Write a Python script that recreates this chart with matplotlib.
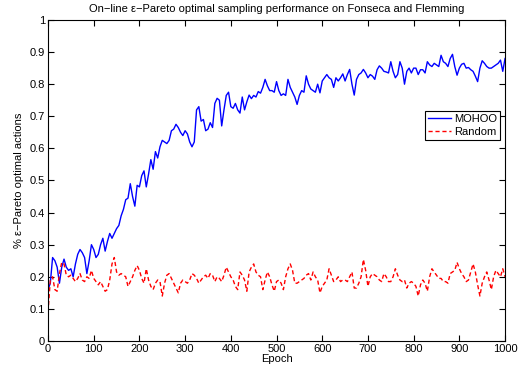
import numpy as np
import matplotlib
matplotlib.use("Agg")
import matplotlib.pyplot as plt


# -----------------------------
# Data (every 5 epochs)
# -----------------------------
epochs = np.arange(0, 1001, 5)

mohoo = [
    0.16, 0.18, 0.26, 0.25, 0.23, 0.18, 0.23, 0.255, 0.23, 0.22,
    0.225, 0.20, 0.24, 0.27, 0.285, 0.275, 0.26, 0.21, 0.25, 0.30,
    0.285, 0.26, 0.27, 0.30, 0.32, 0.28, 0.31, 0.335, 0.32, 0.335,
    0.35, 0.36, 0.39, 0.41, 0.44, 0.445, 0.49, 0.45, 0.42, 0.485,
    0.48, 0.515, 0.53, 0.48, 0.52, 0.565, 0.535, 0.59, 0.57, 0.605,
    0.625, 0.62, 0.615, 0.625, 0.655, 0.66, 0.675, 0.665, 0.65, 0.64,
    0.655, 0.645, 0.62, 0.605, 0.62, 0.72, 0.73, 0.685, 0.69, 0.655,
    0.66, 0.68, 0.665, 0.74, 0.756, 0.75, 0.67, 0.72, 0.765, 0.775,
    0.73, 0.725, 0.74, 0.72, 0.71, 0.76, 0.72, 0.745, 0.766, 0.755,
    0.765, 0.76, 0.777, 0.772, 0.79, 0.815, 0.795, 0.78, 0.78, 0.775,
    0.808, 0.78, 0.765, 0.77, 0.765, 0.815, 0.79, 0.775, 0.76, 0.737,
    0.765, 0.78, 0.775, 0.826, 0.80, 0.785, 0.78, 0.775, 0.80, 0.773,
    0.81, 0.82, 0.83, 0.82, 0.815, 0.79, 0.82, 0.81, 0.82, 0.832,
    0.81, 0.83, 0.846, 0.80, 0.766, 0.815, 0.83, 0.835, 0.846, 0.835,
    0.82, 0.83, 0.825, 0.815, 0.845, 0.857, 0.85, 0.84, 0.838, 0.835,
    0.87, 0.84, 0.82, 0.83, 0.87, 0.85, 0.80, 0.84, 0.85, 0.835,
    0.85, 0.85, 0.83, 0.845, 0.845, 0.835, 0.87, 0.86, 0.855, 0.865,
    0.86, 0.855, 0.89, 0.87, 0.865, 0.855, 0.88, 0.893, 0.855, 0.828,
    0.85, 0.862, 0.865, 0.85, 0.852, 0.845, 0.84, 0.825, 0.808, 0.85,
    0.873, 0.865, 0.855, 0.85, 0.85, 0.855, 0.86, 0.865, 0.875, 0.84,
    0.88,
]

random_pick = [
    0.09, 0.19, 0.20, 0.16, 0.155, 0.21, 0.245, 0.24, 0.205, 0.20,
    0.205, 0.195, 0.185, 0.195, 0.21, 0.19, 0.185, 0.20, 0.195, 0.22,
    0.195, 0.185, 0.175, 0.185, 0.17, 0.155, 0.16, 0.19, 0.24, 0.26,
    0.215, 0.205, 0.21, 0.205, 0.20, 0.17, 0.185, 0.20, 0.22, 0.235,
    0.22, 0.195, 0.18, 0.225, 0.19, 0.17, 0.16, 0.18, 0.19, 0.185,
    0.14, 0.18, 0.205, 0.21, 0.195, 0.18, 0.165, 0.15, 0.18, 0.19,
    0.185, 0.18, 0.19, 0.21, 0.205, 0.195, 0.18, 0.19, 0.20, 0.205,
    0.195, 0.21, 0.205, 0.185, 0.20, 0.195, 0.185, 0.205, 0.23, 0.215,
    0.20, 0.19, 0.17, 0.16, 0.215, 0.205, 0.19, 0.155, 0.215, 0.23,
    0.24, 0.215, 0.205, 0.20, 0.16, 0.19, 0.215, 0.20, 0.175, 0.155,
    0.185, 0.19, 0.18, 0.16, 0.20, 0.225, 0.24, 0.22, 0.18, 0.18,
    0.185, 0.19, 0.195, 0.205, 0.21, 0.19, 0.215, 0.20, 0.19, 0.15,
    0.17, 0.18, 0.19, 0.225, 0.205, 0.185, 0.19, 0.20, 0.185, 0.19,
    0.19, 0.185, 0.20, 0.215, 0.165, 0.165, 0.18, 0.20, 0.254, 0.22,
    0.17, 0.20, 0.21, 0.205, 0.20, 0.19, 0.185, 0.21, 0.20, 0.185,
    0.185, 0.20, 0.225, 0.205, 0.19, 0.185, 0.19, 0.165, 0.18, 0.185,
    0.18, 0.17, 0.14, 0.175, 0.19, 0.18, 0.155, 0.20, 0.225, 0.215,
    0.205, 0.195, 0.195, 0.185, 0.185, 0.18, 0.21, 0.215, 0.22, 0.245,
    0.225, 0.21, 0.20, 0.185, 0.19, 0.215, 0.24, 0.215, 0.175, 0.14,
    0.18, 0.20, 0.215, 0.19, 0.16, 0.20, 0.22, 0.21, 0.20, 0.225,
    0.20,
]

x_ticks = np.arange(0, 1001, 100)
y_ticks = np.round(np.arange(0, 1.01, 0.1), 1)
y_tick_labels = ["0", "0.1", "0.2", "0.3", "0.4", "0.5", "0.6", "0.7", "0.8", "0.9", "1"]


# -----------------------------
# Chart
# -----------------------------
plt.rcParams["font.family"] = ["Liberation Sans", "DejaVu Sans"]
plt.rcParams["font.size"] = 8

fig = plt.figure(figsize=(5.18, 3.68), dpi=100)
ax = fig.add_axes([0.0927, 0.0734, 0.8823, 0.8723])

ax.plot(epochs, mohoo, color="blue", linewidth=1.0, label="MOHOO")
ax.plot(epochs, random_pick, color="red", linestyle="--", linewidth=1.0,
        dashes=(3, 2), label="Random")

ax.set_xlim(0, 1000)
ax.set_ylim(0, 1)
ax.set_xticks(x_ticks)
ax.set_yticks(y_ticks)
ax.set_yticklabels(y_tick_labels)
ax.tick_params(direction="in", top=True, right=True, length=4, width=0.8,
               labelsize=8, pad=2)
for spine in ax.spines.values():
    spine.set_linewidth(0.8)

ax.set_title("On\u2212line \u03b5\u2212Pareto optimal sampling performance on Fonseca and Flemming",
             fontsize=8, pad=6)
ax.set_xlabel("Epoch", fontsize=8, labelpad=0)
ax.set_ylabel("% \u03b5\u2212Pareto optimal actions", fontsize=8, labelpad=4)

leg = ax.legend(loc="upper right", bbox_to_anchor=(0.997, 0.727), fontsize=8,
                fancybox=False, framealpha=1, edgecolor="black",
                handlelength=2.0, borderpad=0.3, labelspacing=0.2,
                handletextpad=0.3, borderaxespad=0.3)
leg.get_frame().set_linewidth(0.8)

fig.savefig("out.png", dpi=100)
